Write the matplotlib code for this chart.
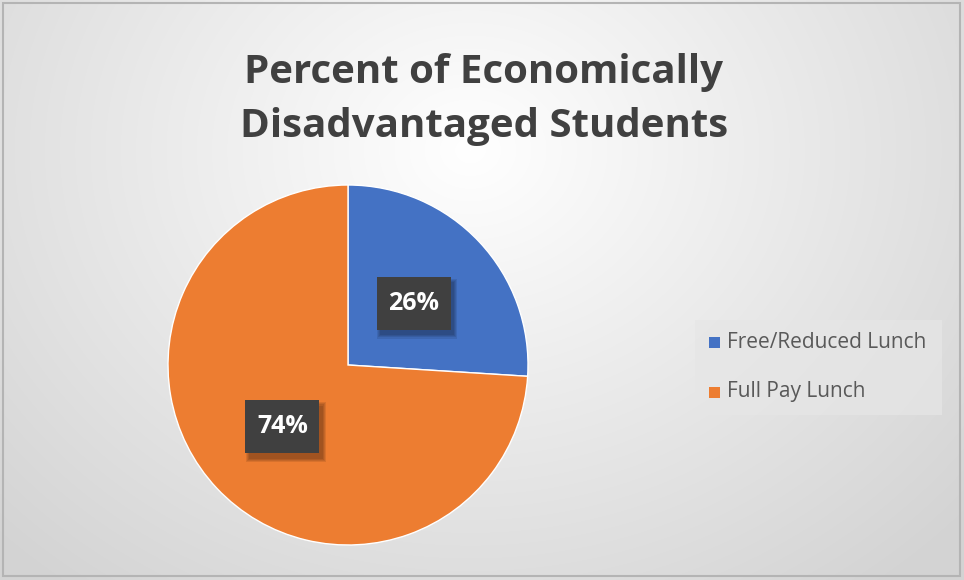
import numpy as np
import matplotlib.pyplot as plt
from matplotlib.patches import Rectangle

labels = ["Free/Reduced Lunch", "Full Pay Lunch"]
shares = [26, 74]
colors = ["#4472C4", "#ED7D31"]
title = "Percent of Economically\nDisadvantaged Students"

W, H = 964, 580
fig = plt.figure(figsize=(W / 100, H / 100), dpi=100)

# soft radial background
bg = fig.add_axes([0, 0, 1, 1])
yy, xx = np.mgrid[0:H, 0:W]
d = np.sqrt(((xx - 470) / 620.0) ** 2 + ((yy - 150) / 520.0) ** 2)
shade = np.clip(1.0 - 0.16 * d, 0.83, 1.0)
bg.imshow(np.dstack([shade, shade, shade]), extent=[0, W, H, 0], aspect="auto")
bg.add_patch(Rectangle((3, 3), W - 7, H - 7, fill=False, ec="#b4b4b4", lw=1.5))
bg.set_xlim(0, W)
bg.set_ylim(H, 0)
bg.axis("off")

fig.text(484 / W, 1 - 99 / H, title, ha="center", va="center", fontsize=29,
         fontweight="bold", color="#404040", family="Open Sans", linespacing=1.5)

# pie
cx, cy, r = 348, 365, 180
ax = fig.add_axes([(cx - r) / W, 1 - (cy + r) / H, 2 * r / W, 2 * r / H])
wedges, _ = ax.pie(shares, colors=colors, startangle=90, counterclock=False,
                   wedgeprops=dict(edgecolor="white", linewidth=1))
ax.set_xlim(-1, 1)
ax.set_ylim(-1, 1)
ax.set_aspect("equal")
ax.axis("off")

# data-label boxes (size in pie units, 1 unit = radius)
bw, bh = 74 / r, 53 / r
start = 90.0
for v in shares:
    mid = np.deg2rad(start - v * 3.6 / 2)
    start -= v * 3.6
    x, y = 0.5 * np.cos(mid), 0.5 * np.sin(mid)
    # blurred drop shadow
    for k in range(4):
        g = k * 0.006
        ax.add_patch(Rectangle((x - bw / 2 + 0.02 - g, y - bh / 2 - 0.03 - g),
                               bw + 2 * g, bh + 2 * g, fc="black", ec="none",
                               alpha=0.09, zorder=3))
    ax.add_patch(Rectangle((x - bw / 2, y - bh / 2), bw, bh, fc="#404040",
                           ec="none", zorder=4))
    ax.text(x, y, f"{v}%", ha="center", va="center", fontsize=18,
            fontweight="bold", color="white", family="Open Sans", zorder=5)

# legend
bg.add_patch(Rectangle((695, 320), 247, 95, fc="#e6e6e6", ec="none", alpha=0.7))
for i, (lab, c) in enumerate(zip(labels, colors)):
    ly = 342 + i * 50
    bg.add_patch(Rectangle((709, ly - 5.5), 11, 11, fc=c, ec="none"))
    bg.text(727, ly, lab, ha="left", va="center", fontsize=15,
            color="#595959", family="Open Sans")

fig.savefig("out.png", dpi=100)
